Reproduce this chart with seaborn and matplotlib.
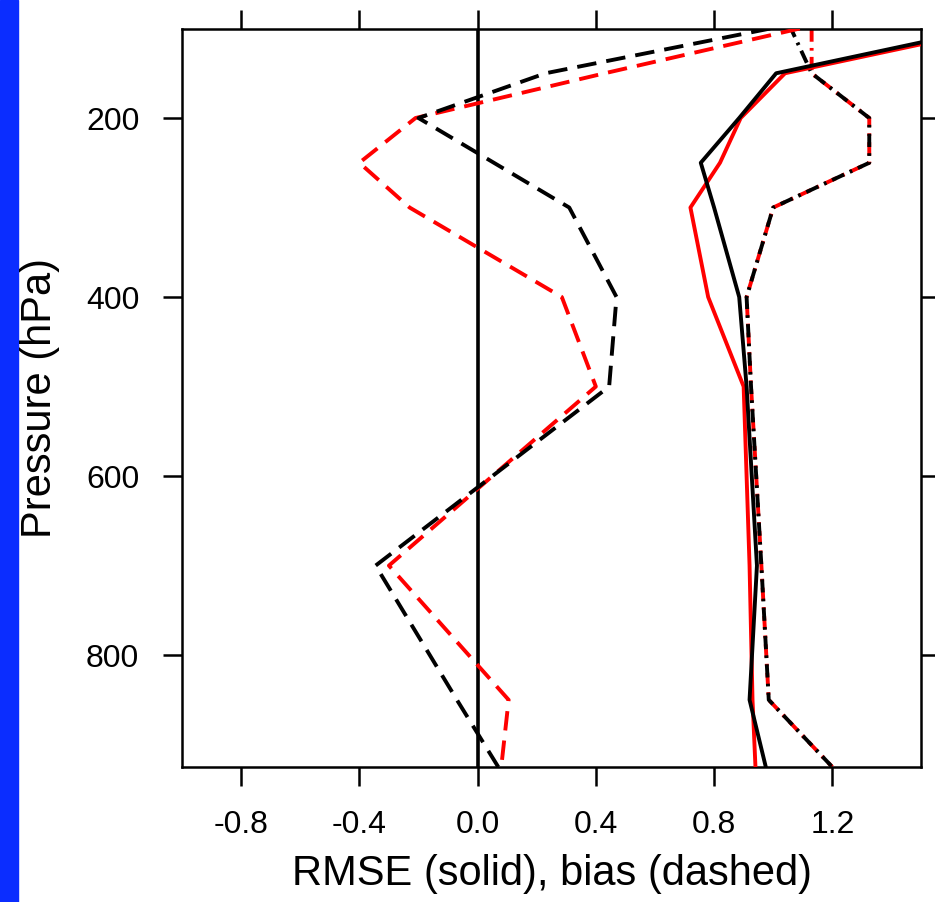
import matplotlib
matplotlib.use("Agg")
import matplotlib.pyplot as plt
import seaborn as sns
import pandas as pd

# ---- data ----
pressure = [100, 150, 200, 250, 300, 400, 500, 700, 850, 925]
rmse_black = [1.72, 1.01, 0.885, 0.755, 0.80, 0.885, 0.91, 0.945, 0.92, 0.975]
rmse_red = [1.75, 1.04, 0.89, 0.82, 0.72, 0.78, 0.90, 0.92, 0.93, 0.94]
bias_black = [0.99, 0.23, -0.20, 0.055, 0.31, 0.47, 0.445, -0.345, -0.07, 0.07]
bias_red = [1.09, 0.43, -0.21, -0.40, -0.23, 0.285, 0.40, -0.30, 0.105, 0.08]
spread_black = [1.06, 1.13, 1.325, 1.325, 1.00, 0.91, 0.925, 0.96, 0.985, 1.20]
spread_red = [1.13, 1.13, 1.325, 1.325, 1.00, 0.91, 0.925, 0.96, 0.985, 1.20]
xticks = [-0.8, -0.4, 0.0, 0.4, 0.8, 1.2]
xtick_labels = ["-0.8", "-0.4", "0.0", "0.4", "0.8", "1.2"]
yticks = [200, 400, 600, 800]
ytick_labels = ["200", "400", "600", "800"]
xlabel = "RMSE (solid), bias (dashed)"
ylabel = "Pressure (hPa)"

sns.set_theme(style="white")
plt.rcParams["font.family"] = ["Liberation Sans", "DejaVu Sans"]
plt.rcParams["text.color"] = "black"
plt.rcParams["xtick.color"] = "black"
plt.rcParams["ytick.color"] = "black"
plt.rcParams["axes.labelcolor"] = "black"

fig = plt.figure(figsize=(9.35, 9.02), dpi=100)
fig.patch.set_facecolor("white")
# blue strip on the left edge
fig.patches.append(plt.Rectangle((0, 0), 18 / 935, 1, transform=fig.transFigure,
                                 color="#0b2dff", zorder=-10))
ax = fig.add_axes([182 / 935, 1 - 767 / 902, (921 - 182) / 935, (767 - 28.5) / 902])
ax.set_facecolor("white")

lw = 2.8
ax.axvline(0.0, color="black", lw=2.6, zorder=1)

def draw(vals, color, ls, z):
    df = pd.DataFrame({"x": vals, "p": pressure})
    sns.lineplot(data=df, x="x", y="p", sort=False, estimator=None, orient="y",
                 color=color, lw=lw, ax=ax, zorder=z, linestyle=ls)

dashdot = (0, (3.4, 1.6, 0.7, 1.6))
dashed = (0, (5.0, 2.6))
draw(spread_red, "red", dashdot, 2)
draw(spread_black, "black", (1.0, (3.4, 1.6, 0.7, 1.6)), 3)
draw(bias_red, "red", dashed, 4)
draw(bias_black, "black", dashed, 5)
draw(rmse_red, "red", "-", 6)
draw(rmse_black, "black", "-", 7)

ax.set_xlim(-1.0, 1.5)
ax.set_ylim(925, 100)
ax.set_xticks(xticks)
ax.set_xticklabels(xtick_labels)
ax.set_yticks(yticks)
ax.set_yticklabels(ytick_labels)

for s in ax.spines.values():
    s.set_visible(True)
    s.set_color("black")
    s.set_linewidth(1.8)

ax.tick_params(axis="both", which="major", direction="out", length=13.7, width=1.8,
               color="black", labelcolor="black", labelsize=23, pad=17, top=True,
               right=True, bottom=True, left=True, labeltop=False, labelright=False)

ax.set_xlabel(xlabel, fontsize=30, color="black")
ax.set_ylabel(ylabel, fontsize=30, color="black")
ax.xaxis.set_label_coords(0.5, -0.118)
ax.yaxis.set_label_coords(-0.165, 0.5)

fig.savefig("out.png", dpi=100, facecolor="white")
